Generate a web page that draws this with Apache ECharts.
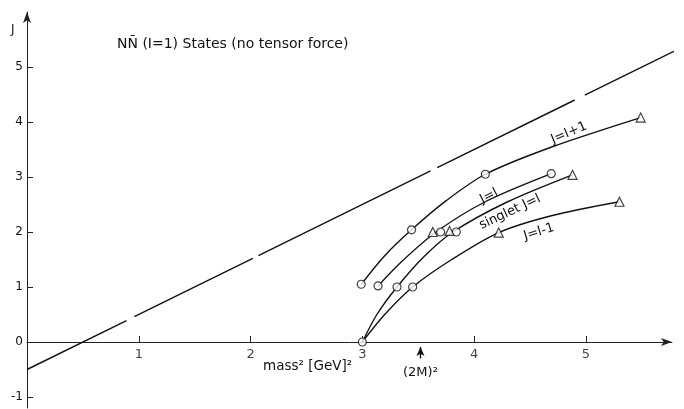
<!DOCTYPE html>
<html><head><meta charset="utf-8">
<script src="https://cdn.jsdelivr.net/npm/echarts@6/dist/echarts.min.js"></script>
<style>html,body{margin:0;padding:0;background:#fff}#c{width:684px;height:409px}</style>
</head><body><div id="c"></div>
<script>
// tick labels
var xTicks = [1, 2, 3, 4, 5];
var yTicks = [-1, 0, 1, 2, 3, 4, 5];
// straight reference line (drawn as long dashes), [mass², J]
var refLine = [[0,-0.5],[0.89,0.39],[0.89,'-'],[0.96,0.46],[2.02,1.52],[2.02,'-'],[2.07,1.57],[3.61,3.11],[3.61,'-'],[3.67,3.17],[4.90,4.40],[4.90,'-'],[4.99,4.49],[5.87,5.37]];
// trajectories
var curveLp1 = [[2.99,1.05],[3.2,1.57],[3.44,2.04],[3.75,2.57],[4.10,3.05],[4.7,3.55],[5.49,4.08]];
var curveL = [[3.14,1.02],[3.35,1.46],[3.66,2.0],[4.1,2.55],[4.69,3.06]];
var curveSinglet = [[3.0,0],[3.13,0.5],[3.31,1.0],[3.55,1.55],[3.81,2.0],[4.3,2.55],[4.88,3.04]];
var curveLm1 = [[3.0,0],[3.2,0.5],[3.45,1.0],[3.8,1.5],[4.22,1.99],[4.7,2.3],[5.30,2.55]];
// marker points
var circles = [[2.99,1.05],[3.14,1.02],[3.31,1.0],[3.45,1.0],[3.0,0],[3.44,2.04],[3.70,2.0],[3.84,2.0],[4.10,3.05],[4.69,3.06]];
var triangles = [[3.63,2.0],[3.78,2.02],[4.22,1.99],[4.88,3.04],[5.30,2.55],[5.49,4.08]];
var twoM2 = 3.52;

var FONT = 'DejaVu Sans';
var ink = '#111';
function curve(d){return {type:'line',data:d,smooth:0.3,showSymbol:false,silent:true,z:2,
  lineStyle:{color:ink,width:1.4}};}
var chart = echarts.init(document.getElementById('c'));
var deg = Math.PI/180;
chart.setOption({
  animation:false,
  backgroundColor:'#fff',
  grid:{left:27,right:12,top:12,bottom:1,containLabel:false,outerBoundsMode:'none'},
  xAxis:{type:'value',min:0,max:5.77,
    axisLine:{onZero:true,symbol:['none','arrow'],symbolSize:[6,11],lineStyle:{color:'#222',width:1}},
    axisTick:{inside:true,length:6,customValues:xTicks,lineStyle:{color:'#222'}},
    axisLabel:{show:false},
    splitLine:{show:false}},
  yAxis:{type:'value',min:-1.2,max:6,
    axisLine:{onZero:false,symbol:['none','arrow'],symbolSize:[6,11],lineStyle:{color:'#222',width:1}},
    axisTick:{inside:true,length:6,customValues:yTicks,lineStyle:{color:'#222'}},
    axisLabel:{customValues:yTicks,margin:4,color:'#111',fontFamily:FONT,fontSize:12},
    splitLine:{show:false}},
  series:[
    {type:'line',data:refLine,showSymbol:false,clip:false,connectNulls:false,silent:true,
      lineStyle:{color:ink,width:1.4},
      markLine:{silent:true,symbol:['arrow','none'],symbolSize:[6,9],label:{show:false},
        lineStyle:{color:ink,width:1.4,type:'solid'},
        data:[[{coord:[twoM2,-0.09]},{coord:[twoM2,-0.3]}]]}},
    curve(curveLp1),curve(curveL),curve(curveSinglet),curve(curveLm1),
    {type:'scatter',data:circles,symbol:'circle',symbolSize:8,z:5,
      itemStyle:{color:'#fff',borderColor:ink,borderWidth:1.2}},
    {type:'scatter',data:triangles,symbol:'triangle',symbolSize:9,z:5,
      itemStyle:{color:'#fff',borderColor:ink,borderWidth:1.2}},
    // x tick labels placed through the x scale
    {type:'scatter',data:xTicks.map(function(v){return [v,0];}),symbolSize:0,silent:true,z:6,
      label:{show:true,position:'bottom',distance:6,color:'#111',fontFamily:FONT,fontSize:13,
        formatter:function(p){return String(p.value[0]);}}}
  ],
  graphic:[
    {type:'text',left:117,top:37,style:{text:'NÑ (I=1) States (no tensor force)',font:'14px "DejaVu Sans"',fill:'#111'}},
    {type:'text',left:11,top:24,style:{text:'J',font:'12px "DejaVu Sans"',fill:'#111'}},
    {type:'text',left:263,top:359,style:{text:'mass² [GeV]²',font:'13.5px "DejaVu Sans"',fill:'#111'}},
    {type:'text',left:403,top:366,style:{text:'(2M)²',font:'13px "DejaVu Sans"',fill:'#111'}},
    {type:'text',x:569,y:133,rotation:23*deg,style:{text:'J=l+1',font:'13px "DejaVu Sans"',fill:'#111',align:'center',verticalAlign:'middle'}},
    {type:'text',x:489,y:196,rotation:27*deg,style:{text:'J=l',font:'13px "DejaVu Sans"',fill:'#111',align:'center',verticalAlign:'middle'}},
    {type:'text',x:510,y:212,rotation:25*deg,style:{text:'singlet J=l',font:'13px "DejaVu Sans"',fill:'#111',align:'center',verticalAlign:'middle'}},
    {type:'text',x:539,y:232,rotation:17*deg,style:{text:'J=l-1',font:'13px "DejaVu Sans"',fill:'#111',align:'center',verticalAlign:'middle'}}
  ]
});
</script></body></html>
